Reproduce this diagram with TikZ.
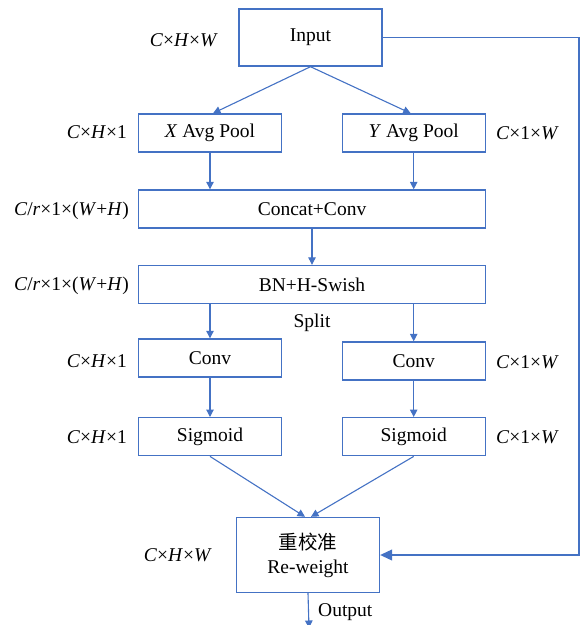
\documentclass[tikz,border=0pt]{standalone}
\usepackage{fontspec}
\setmainfont{Liberation Serif}
\newfontfamily\cjk{Noto Sans CJK SC}
\usetikzlibrary{arrows.meta,calc}
\definecolor{lineblue}{RGB}{68,114,196}
\begin{document}
\begin{tikzpicture}[x=1pt,y=-1pt,
  font=\fontsize{19.5}{24}\selectfont,
  box/.style={draw=lineblue, line width=1.4pt, minimum width=143pt, minimum height=38pt, inner sep=0pt, align=center},
  wbox/.style={box, minimum width=347pt},
  arr/.style={draw=lineblue, line width=1.1pt, -{Triangle[length=7.5pt,width=7.5pt]}},
  bigarr/.style={draw=lineblue, line width=1.1pt, -{Triangle[length=12pt,width=11pt]}},
  lab/.style={inner sep=0pt}]
\useasboundingbox (0,0) rectangle (582,625);
\clip (0,0) rectangle (582,625);

\node[box, minimum height=57pt] (in) at (310.5,37.5) {Input};
\node[box] (xp) at (210,133) {\textit{X} Avg Pool};
\node[box] (yp) at (413.7,133) {\textit{Y} Avg Pool};
\node[wbox] (cc) at (312,209) {Concat+Conv};
\node[wbox] (bn) at (312,284.5) {BN+H-Swish};
\node[box] (cl) at (210,358) {Conv};
\node[box] (cr) at (413.7,361) {Conv};
\node[box] (sl) at (210,436.7) {Sigmoid};
\node[box] (sr) at (413.7,436.7) {Sigmoid};
\node[box, minimum height=75pt] (rw) at (308,555) {{\cjk 重校准}\\Re-weight};

\node[lab] (split) at (312,323) {Split};
\node[lab, anchor=west] (outl) at (318,612) {Output};

\node[lab, anchor=east] (l1) at (218,40) {\textit{C}×\textit{H}×\textit{W}};
\node[lab, anchor=east] (l2) at (127,132) {\textit{C}×\textit{H}×1};
\node[lab, anchor=west] (r2) at (496,133) {\textit{C}×1×\textit{W}};
\node[lab, anchor=east] (l3) at (129,211) {\textit{C}/\textit{r}×1×(\textit{W}+\textit{H})};
\node[lab, anchor=east] (l4) at (129,286) {\textit{C}/\textit{r}×1×(\textit{W}+\textit{H})};
\node[lab, anchor=east] (l5) at (127,361) {\textit{C}×\textit{H}×1};
\node[lab, anchor=west] (r5) at (496,362) {\textit{C}×1×\textit{W}};
\node[lab, anchor=east] (l6) at (127,437) {\textit{C}×\textit{H}×1};
\node[lab, anchor=west] (r6) at (496,437) {\textit{C}×1×\textit{W}};
\node[lab, anchor=east] (l7) at (212,555) {\textit{C}×\textit{H}×\textit{W}};

\coordinate (fb) at (579,37.5);
\coordinate (out) at (309,628);

\draw[arr] (in.south) -- ($(xp.north)+(3,0)$);
\draw[arr] (in.south) -- ($(yp.north)+(-3,0)$);
\draw[arr] (xp.south) -- (xp.south |- cc.north);
\draw[arr] (yp.south) -- (yp.south |- cc.north);
\draw[arr] (cc.south) -- (bn.north);
\draw[arr] (cl.north |- bn.south) -- (cl.north);
\draw[arr] (cr.north |- bn.south) -- (cr.north);
\draw[arr] (cl.south) -- (sl.north);
\draw[arr] (cr.south) -- (sr.north);
\draw[arr] (sl.south) -- ($(rw.north)+(-3,0)$);
\draw[arr] (sr.south) -- ($(rw.north)+(3,0)$);
\draw[bigarr] (in.east) -- (fb) |- (rw.east);
\draw[arr] (rw.south) -- (out);
\end{tikzpicture}
\end{document}
